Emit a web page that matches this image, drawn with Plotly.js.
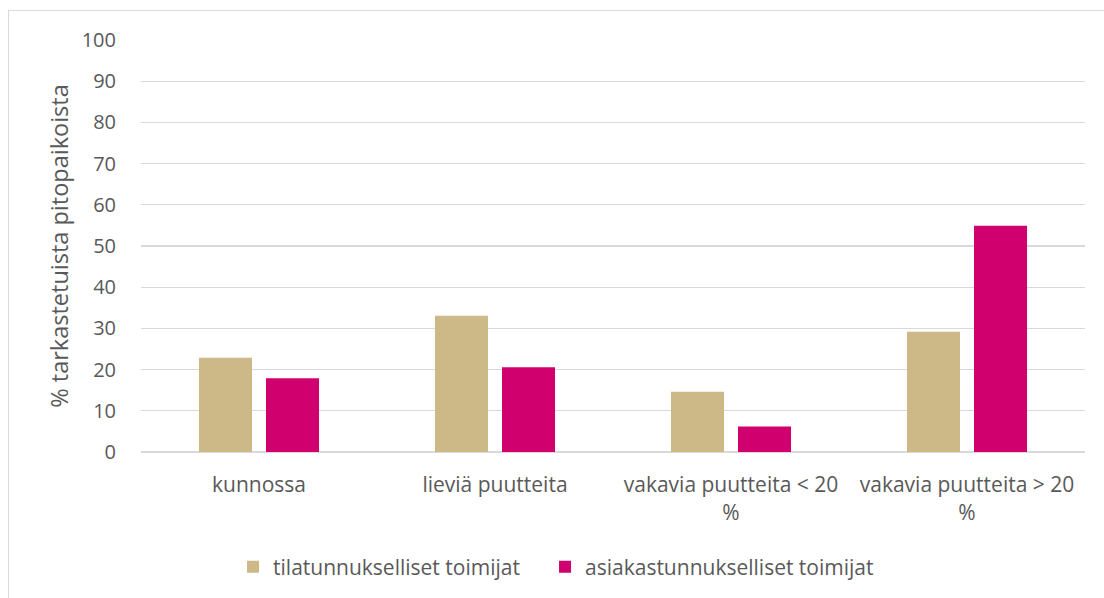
<!DOCTYPE html>
<html>
<head>
<meta charset="utf-8">
<script src="https://cdn.plot.ly/plotly-3.0.1.min.js"></script>
<style>
  html, body { margin: 0; padding: 0; background: #fff; }
  #wrap { position: relative; width: 1104px; height: 598px; overflow: hidden; }
  #frame { position: absolute; left: 8px; top: 10px; right: -2px; bottom: -2px;
           border-left: 1px solid #d9d9d9; border-top: 1px solid #d9d9d9; pointer-events: none; }
  #chart { position: absolute; left: 0; top: 0; width: 1104px; height: 598px; }
</style>
</head>
<body>
<div id="wrap">
  <div id="chart"></div>
  <div id="frame"></div>
</div>
<script>
const categories = ["kunnossa", "lieviä puutteita", "vakavia puutteita < 20 %", "vakavia puutteita > 20 %"];
const tickLabels = ["kunnossa", "lieviä puutteita", "vakavia puutteita < 20<br>%", "vakavia puutteita > 20<br>%"];
const seriesNames = ["tilatunnukselliset toimijat", "asiakastunnukselliset toimijat"];
const tilatunnukselliset = [22.9, 33.1, 14.6, 29.2];
const asiakastunnukselliset = [17.9, 20.6, 6.2, 54.9];
const yTicks = [0, 10, 20, 30, 40, 50, 60, 70, 80, 90, 100];

const font = "'Open Sans', 'Liberation Sans', sans-serif";
const textColor = "#595959";

const traces = [
  { type: "bar", name: seriesNames[0], x: categories, y: tilatunnukselliset, legend: "legend",
    marker: { color: "#CDB887", line: { width: 0 } }, hoverinfo: "x+y" },
  { type: "bar", name: seriesNames[1], x: categories, y: asiakastunnukselliset, legend: "legend2",
    marker: { color: "#D1006F", line: { width: 0 } }, hoverinfo: "x+y" }
];

const legendFont = { family: font, size: 21, color: textColor };

const layout = {
  width: 1104, height: 598,
  margin: { l: 141, r: 19, t: 39.5, b: 145, pad: 0 },
  paper_bgcolor: "rgba(0,0,0,0)", plot_bgcolor: "#fff",
  font: { family: font, size: 20, color: textColor },
  barmode: "group", bargap: 0.432, bargroupgap: 0.209,
  showlegend: true,
  legend: { orientation: "h", x: 0.0975, xanchor: "left", y: -0.276, yanchor: "middle",
            font: legendFont, bgcolor: "rgba(0,0,0,0)" },
  legend2: { orientation: "h", x: 0.428, xanchor: "left", y: -0.276, yanchor: "middle",
             font: legendFont, bgcolor: "rgba(0,0,0,0)" },
  xaxis: {
    type: "category", categoryarray: categories, tickvals: categories, ticktext: tickLabels,
    showgrid: false, zeroline: false, showline: false,
    ticks: "outside", ticklen: 14, tickcolor: "rgba(0,0,0,0)",
    tickfont: { family: font, size: 21, color: textColor }, fixedrange: true
  },
  yaxis: {
    range: [0, 100], tickvals: yTicks, ticktext: yTicks.map(String),
    showgrid: true, gridcolor: "#d9d9d9", gridwidth: 1.3,
    zeroline: true, zerolinecolor: "#d9d9d9", zerolinewidth: 1.3, showline: false,
    ticks: "outside", ticklen: 20, tickcolor: "rgba(0,0,0,0)",
    tickfont: { family: font, size: 20, color: textColor },
    title: { text: "% tarkastetuista pitopaikoista", standoff: 6,
             font: { family: font, size: 23.5, color: textColor } },
    fixedrange: true
  }
};

Plotly.newPlot("chart", traces, layout, { displayModeBar: false, staticPlot: true });
</script>
</body>
</html>
